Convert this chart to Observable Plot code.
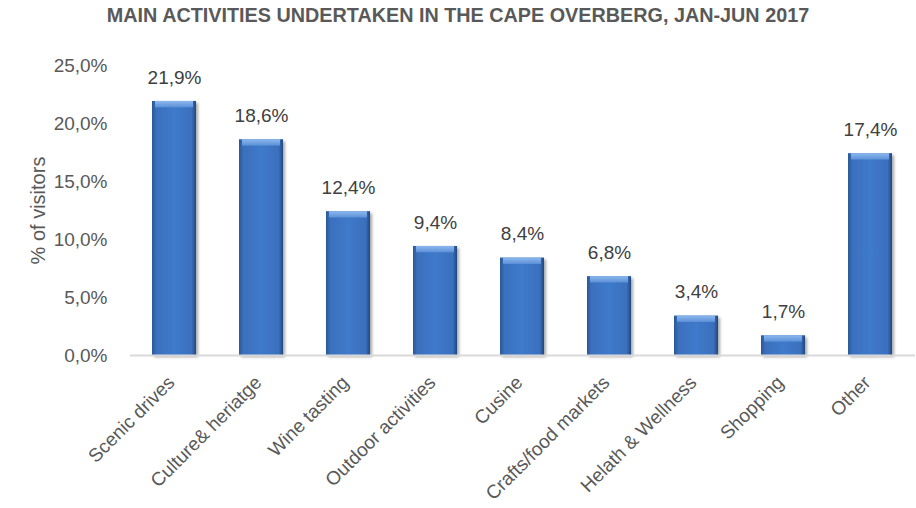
<!DOCTYPE html>
<html><head><meta charset="utf-8">
<script src="https://cdn.jsdelivr.net/npm/d3@7"></script>
<script src="https://cdn.jsdelivr.net/npm/@observablehq/plot@0.6"></script>
<style>
body{margin:0;background:#fff;font-family:"Liberation Sans",Arial,sans-serif;}
#title{height:36px;line-height:30px;text-align:center;font-weight:bold;font-size:19.8px;color:#595959;font-family:"Liberation Sans",Arial,sans-serif;}
</style></head>
<body>
<div id="title">MAIN ACTIVITIES UNDERTAKEN IN THE CAPE OVERBERG, JAN-JUN 2017</div>
<div id="chart"></div>
<script>
const categories = ["Scenic drives","Culture& heriatge","Wine tasting","Outdoor activities","Cusine","Crafts/food markets","Helath & Wellness","Shopping","Other"];
const values = [21.9,18.6,12.4,9.4,8.4,6.8,3.4,1.7,17.4];
const yTicks = [0,5,10,15,20,25];

const data = categories.map((c,i)=>({cat:c, v:values[i]}));
const fmt = d => d.toFixed(1).replace(".",",") + "%";
const FS = 19;

const plot = Plot.plot({
  width:916, height:472,
  marginLeft:130, marginRight:1, marginTop:29, marginBottom:153,
  style:{fontFamily:'"Liberation Sans",Arial,sans-serif', fontSize:FS+"px", color:"#595959", background:"#fff"},
  x:{domain:categories, paddingInner:0.49, paddingOuter:0.245, label:null},
  y:{domain:[0,25], label:null},
  marks:[
    Plot.barY(data,{x:"cat", y:"v", fill:"url(#barGrad)", className:"mainbars"}),
    Plot.barY(data,{x:"cat", y1:d=>d.v, y2:d=>Math.max(d.v-0.55,0), fill:"url(#topGrad)", insetLeft:3, insetRight:3}),
    Plot.ruleY([0],{stroke:"#d9d9d9", strokeWidth:2}),
    Plot.text(data,{x:"cat", y:"v", text:d=>fmt(d.v), dy:-24, fill:"#404040", fontSize:FS}),
    Plot.axisY({ticks:yTicks, tickFormat:fmt, tickSize:0, tickPadding:23, fontSize:FS, fill:"#595959",
      label:"% of visitors", labelAnchor:"center", labelArrow:"none", labelOffset:100}),
    Plot.axisX({tickSize:0, tickRotate:-45, tickPadding:24, dx:-3, fontSize:FS, fill:"#595959", label:null})
  ]
});
document.getElementById("chart").appendChild(plot);

const svg = d3.select(plot);
const defs = svg.insert("defs",":first-child");
const g = defs.append("linearGradient").attr("id","barGrad").attr("x1","0").attr("x2","1").attr("y1","0").attr("y2","0");
[[0,"#2a5896"],[0.1,"#3a70bd"],[0.5,"#3f7acb"],[0.9,"#3a70bd"],[1,"#21487f"]].forEach(([o,c])=>g.append("stop").attr("offset",o).attr("stop-color",c));
const t = defs.append("linearGradient").attr("id","topGrad").attr("x1","0").attr("x2","0").attr("y1","0").attr("y2","1");
[[0,"#8db8ee"],[1,"#5b90d8"]].forEach(([o,c])=>t.append("stop").attr("offset",o).attr("stop-color",c));
const f = defs.append("filter").attr("id","shadow").attr("x","-20%").attr("y","-20%").attr("width","150%").attr("height","150%");
f.append("feDropShadow").attr("dx",2).attr("dy",2).attr("stdDeviation",1.5).attr("flood-color","#000").attr("flood-opacity",0.35);
svg.select("g.mainbars").attr("filter","url(#shadow)");
svg.selectAll("g[aria-label='y-axis label'] text").attr("font-size","20px");
</script>
</body></html>
